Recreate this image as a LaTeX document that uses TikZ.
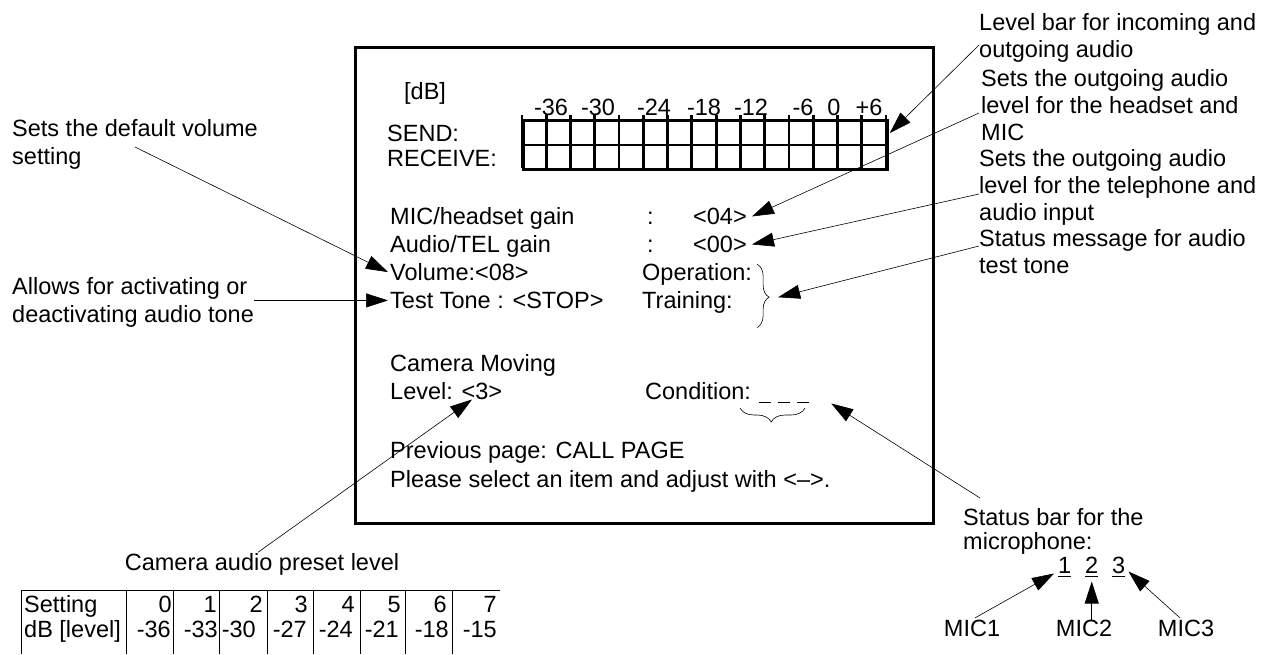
\documentclass[tikz,border=0pt]{standalone}
\usepackage{fontspec}
\setmainfont{Liberation Sans}
\usetikzlibrary{arrows.meta,calc,positioning,decorations.pathreplacing}

\tikzset{
  lbl/.style={anchor=base west, inner sep=0pt},
  note/.style={anchor=north west, inner sep=0pt, align=left, font=\fontsize{23.5}{27}\selectfont},
  pointer/.style={line width=0.6pt, -{Triangle[length=22pt,width=14pt]}},
  meter/.style={line width=2.8pt},
  curly/.style={decorate, decoration={brace, amplitude=#1, aspect=0.52}, line width=0.6pt},
}

\begin{document}
\begin{tikzpicture}[x=1pt, y=-1pt, font=\fontsize{23.5}{28}\selectfont]
        \useasboundingbox (0,0) rectangle (1271,654);

        % Screen frame
        \draw[line width=3pt] (355,47) rectangle (933,523);

        % Level bar
        \node[lbl] (db) at (404,99) {[dB]};
        \node[lbl] (send) at (387,141.5) {SEND:};
        \node[lbl] (recv) at (387,166.5) {RECEIVE:};
        \foreach \lab/\xx [count=\k] in {-36/551,-30/598,-24/654,-18/704,-12/751,-6/803,0/834,+6/869}
            \node[anchor=base, inner sep=0pt] (scale\k) at (\xx,115) {\lab};
        \node[draw, meter, anchor=north west, inner sep=0pt, minimum width=364, minimum height=49] (bar) at (522,119) {};
        \draw[meter] (bar.west) -- (bar.east);
        \foreach \i in {0,...,15}
            \draw[meter] ({522+\i*24.27},115) -- ({522+\i*24.27},168);

        % Audio settings
        \node[lbl] (micgain) at (390,224.5) {MIC/headset gain};
        \node[lbl] (colon1) at (647,224.5) {:};
        \node[lbl] (micval) at (693,224.5) {<04>};
        \node[lbl] (telgain) at (390,252.5) {Audio/TEL gain};
        \node[lbl] (colon2) at (647,252.5) {:};
        \node[lbl] (telval) at (693,252.5) {<00>};
        \node[lbl] (vol) at (390,280.5) {Volume:<08>};
        \node[lbl] (oper) at (642,280.5) {Operation:};
        \node[lbl] (tone) at (390,308.5) {Test Tone : <STOP>};
        \node[lbl] (train) at (642,308.5) {Training:};
        \draw[curly=12] ($(oper.north east)+(5,1)$) -- ($(oper.north east |- train.base)+(5,19)$);
        \coordinate (optip) at ($(oper.north east)+(26,34)$);

        % Camera settings
        \node[lbl] (cammov) at (390,371.5) {Camera Moving};
        \node[lbl] (lvl) at (390,399.5) {Level: <3>};
        \node[lbl] (cond) at (645,399.5) {Condition:};
        \foreach \u in {759,778,797}
            \draw[line width=0.9pt] (\u,402) -- ++(12,0);
        \draw[curly=14] (805,408) -- (740,408);
        \node[lbl] (prev) at (390,458.5) {Previous page: CALL PAGE};
        \node[lbl] (hint) at (390,487) {Please select an item and adjust with <-->.};

        % Notes right
        \node[note] (nlevel) at (979,13) {Level bar for incoming and\\outgoing audio};
        \node[note] (nhead) at (981,69) {Sets the outgoing audio\\level for the headset and\\MIC};
        \node[note] (ntel) at (979,149) {Sets the outgoing audio\\level for the telephone and\\audio input};
        \node[note] (nstat) at (979,229) {Status message for audio\\test tone};

        % Notes left
        \node[note, font=\fontsize{23.5}{28}\selectfont] (nvol) at (12,119) {Sets the default volume\\setting};
        \node[note, font=\fontsize{23.5}{28}\selectfont] (ntone) at (12,277) {Allows for activating or\\deactivating audio tone};

        % Camera level table
        \node[lbl, anchor=base] (ncam) at (262,570.5) {Camera audio preset level};
        \draw[line width=0.8pt] (21,590) -- (500,590);
        \foreach \xx in {21,126,173,219,267,313,360,405,452}
            \draw[line width=0.8pt] (\xx,590) -- (\xx,654);
        \node[lbl] (setrow) at (24,612.5) {Setting};
        \node[lbl] (dbrow) at (24,637.5) {dB [level]};
        \foreach \v/\xx in {0/172,1/217,2/263,3/308,4/355,5/401,6/447,7/497}
            \node[anchor=base east, inner sep=0pt] (set\v) at (\xx,612.5) {\v};
        \foreach \w/\xx in {36/171,33/218,30/256,27/307,24/353,21/399,18/449,15/497}
            \node[anchor=base east, inner sep=0pt] (lev\w) at (\xx,637.5) {-\w};

        % Microphone status
        \node[note, font=\fontsize{23.5}{24}\selectfont] (nbar) at (963,508) {Status bar for the\\microphone:};
        \node[lbl] (d1) at (1058,573.5) {1};
        \node[lbl] (d2) at (1085,573.5) {2};
        \node[lbl] (d3) at (1112,573.5) {3};
        \foreach \d in {d1,d2,d3}
            \draw[line width=1pt] ($(\d.base west)+(0,3)$) -- ($(\d.base east)+(0,3)$);
        \node[lbl, anchor=base] (mic1) at (972,636.5) {MIC1};
        \node[lbl, anchor=base] (mic2) at (1084,636.5) {MIC2};
        \node[lbl, anchor=base] (mic3) at (1186,636.5) {MIC3};

        % Pointers
        \draw[pointer] ($(nlevel.north west)+(0,32)$) -- ($(bar.north east)+(1,14)$);
        \draw[pointer] ($(nhead.north west)+(-2,44)$) -- ($(micval.east)+(5,0)$);
        \draw[pointer] ($(ntel.north west)+(0,45)$) -- ($(telval.east)+(5,0)$);
        \draw[pointer] ($(nstat.north west)+(0,17)$) -- (optip);
        \draw[pointer] ($(nvol.north west)+(123,28)$) -- ($(vol.west)+(-2,0)$);
        \draw[pointer] (tone.west -| ntone.east) -- ($(tone.west)+(-2,0)$);
        \draw[pointer] ($(ncam.north)+(-4,-1)$) -- ($(lvl.base west)+(82,0)$);
        \draw[pointer] ($(nbar.north west)+(17,-10)$) -- ($(cond.base east)+(80,4)$);
        \draw[pointer] ($(mic1.north)+(3,-2)$) -- ($(d1.base west)+(-4,0)$);
        \draw[pointer] (mic2.north -| d2.base) -- ($(d2.base)+(0,8)$);
        \draw[pointer] ($(mic3.north)+(-6,-2)$) -- ($(d3.base east)+(3,-2)$);
    \end{tikzpicture}
\end{document}
